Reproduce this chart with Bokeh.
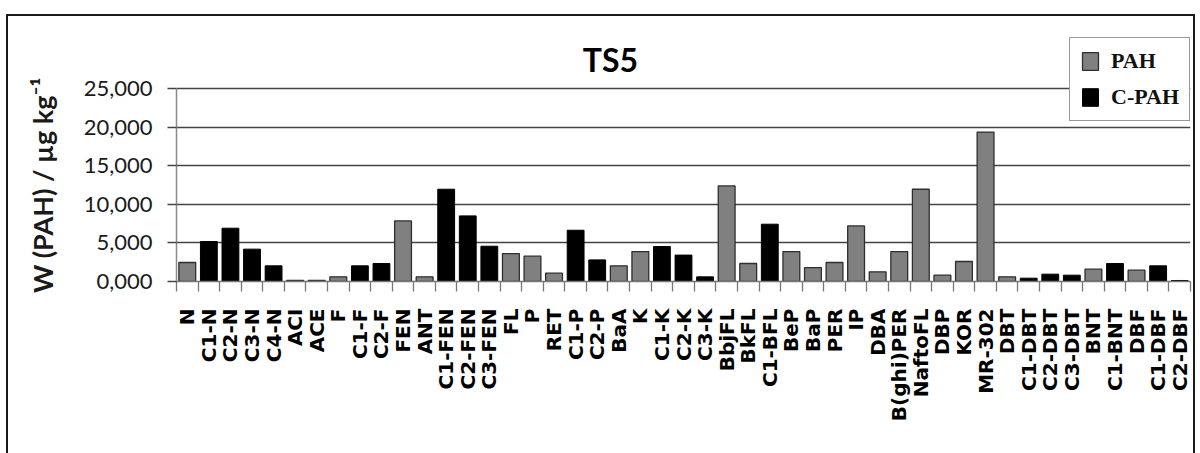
import math
from bokeh.plotting import figure
from bokeh.models import ColumnDataSource, FixedTicker, Legend, LegendItem, Label, Range1d
from bokeh.embed import file_html
from bokeh.resources import INLINE

categories = ["N", "C1-N", "C2-N", "C3-N", "C4-N", "ACI", "ACE", "F", "C1-F", "C2-F",
              "FEN", "ANT", "C1-FEN", "C2-FEN", "C3-FEN", "FL", "P", "RET", "C1-P", "C2-P",
              "BaA", "K", "C1-K", "C2-K", "C3-K", "BbjFL", "BkFL", "C1-BFL", "BeP", "BaP",
              "PER", "IP", "DBA", "B(ghi)PER", "NaftoFL", "DBP", "KOR", "MR-302", "DBT", "C1-DBT",
              "C2-DBT", "C3-DBT", "BNT", "C1-BNT", "DBF", "C1-DBF", "C2-DBF"]
values = [2460, 5180, 6900, 4190, 2030, 130, 130, 600, 2030, 2330,
          7850, 600, 11950, 8500, 4570, 3620, 3280, 1080, 6640, 2800,
          2030, 3880, 4530, 3420, 600, 12380, 2330, 7420, 3880, 1810,
          2460, 7200, 1250, 3880, 11950, 820, 2590, 19360, 600, 430,
          950, 820, 1600, 2330, 1470, 2030, 130]
groups = ["PAH", "C-PAH", "C-PAH", "C-PAH", "C-PAH", "PAH", "PAH", "PAH", "C-PAH", "C-PAH",
          "PAH", "PAH", "C-PAH", "C-PAH", "C-PAH", "PAH", "PAH", "PAH", "C-PAH", "C-PAH",
          "PAH", "PAH", "C-PAH", "C-PAH", "C-PAH", "PAH", "PAH", "C-PAH", "PAH", "PAH",
          "PAH", "PAH", "PAH", "PAH", "PAH", "PAH", "PAH", "PAH", "PAH", "C-PAH",
          "C-PAH", "C-PAH", "PAH", "C-PAH", "PAH", "C-PAH", "C-PAH"]
series_names = ["PAH", "C-PAH"]
yticks = [0, 5000, 10000, 15000, 20000, 25000]
ytick_labels = ["0,000", "5,000", "10,000", "15,000", "20,000", "25,000"]
chart_title = "TS5"
y_title = "W (PAH) / µg kg⁻¹"

n = len(categories)
xs = list(range(n))

# layout (pixels)
W, H = 1195, 453
frame_left, frame_top, frame_right, frame_bottom = 176, 36, 1190, 281
axis_px = 193  # height of the 0..max-tick span; the frame above it holds title & legend
frame_h = frame_bottom - frame_top
y_end = yticks[-1] * frame_h / axis_px


def subset(name):
    idx = [i for i, g in enumerate(groups) if g == name]
    return ColumnDataSource(dict(x=[xs[i] for i in idx], top=[values[i] for i in idx],
                                 cat=[categories[i] for i in idx]))


p = figure(width=W, height=H, output_backend="svg", toolbar_location=None,
           x_range=Range1d(-0.5, n - 0.5), y_range=Range1d(yticks[0], y_end),
           min_border_left=frame_left, min_border_right=W - frame_right,
           min_border_top=frame_top, min_border_bottom=H - frame_bottom,
           background_fill_color="white", border_fill_color=None)
p.styles = {"box-shadow": "inset 0 14px 0 #ffffff, inset 6px 0 0 #ffffff, "
                          "inset 0 16px 0 #1a1a1a, inset 8px 0 0 #1a1a1a, "
                          "inset -2px 0 0 #1a1a1a",
            "background-color": "white"}
p.outline_line_color = None

r_pah = p.vbar(x="x", top="top", width=0.78, source=subset(series_names[0]),
               fill_color="#808080", line_color="#2e2e2e", line_width=1.3)
r_cpah = p.vbar(x="x", top="top", width=0.78, source=subset(series_names[1]),
                fill_color="#000000", line_color="#000000", line_width=1.0)

# y axis
p.yaxis.ticker = FixedTicker(ticks=yticks)
p.yaxis.bounds = (yticks[0], yticks[-1])
p.yaxis.major_label_overrides = dict(zip(yticks, ytick_labels))
p.yaxis.axis_line_color = "#8a8a8a"
p.yaxis.axis_line_width = 1.5
p.yaxis.major_tick_out = 9
p.yaxis.major_tick_in = 0
p.yaxis.major_tick_line_color = "#444444"
p.yaxis.major_tick_line_width = 1.5
p.yaxis.minor_tick_line_color = None
p.yaxis.major_label_text_font = "Lato"
p.yaxis.major_label_text_font_size = "22px"
p.yaxis.major_label_text_color = "#1a1a1a"
p.yaxis.major_label_standoff = 15
# trailing no-break spaces centre the visible title on the 0..25,000 span
p.yaxis.axis_label = y_title + "\u00a0" * 8
p.yaxis.axis_label_text_font = "Lato"
p.yaxis.axis_label_text_font_style = "bold"
p.yaxis.axis_label_text_font_size = "27px"
p.yaxis.axis_label_text_color = "#1a1a1a"
p.yaxis.axis_label_standoff = 22

# x axis
p.xaxis.ticker = FixedTicker(ticks=xs, minor_ticks=[i - 0.5 for i in range(n + 1)])
p.xaxis.major_label_overrides = {i: c for i, c in zip(xs, categories)}
p.xaxis.major_label_orientation = math.pi / 2
p.xaxis.major_tick_out = 0
p.xaxis.major_tick_in = 0
p.xaxis.minor_tick_out = 10
p.xaxis.minor_tick_in = 0
p.xaxis.minor_tick_line_color = "#777777"
p.xaxis.minor_tick_line_width = 1.3
p.xaxis.axis_line_color = "#777777"
p.xaxis.axis_line_width = 1.5
p.xaxis.major_label_text_font = "DejaVu Sans"
p.xaxis.major_label_text_font_style = "bold"
p.xaxis.major_label_text_font_size = "20px"
p.xaxis.major_label_text_color = "#000000"
p.xaxis.major_label_standoff = 17

p.xgrid.visible = False
p.ygrid.ticker = FixedTicker(ticks=yticks)
p.ygrid.grid_line_color = "#444444"
p.ygrid.grid_line_width = 1.5

legend = Legend(items=[LegendItem(label=series_names[0], renderers=[r_pah]),
                       LegendItem(label=series_names[1], renderers=[r_cpah])],
                location=(893, 160), orientation="vertical",
                glyph_width=20, glyph_height=22, label_standoff=11, spacing=10,
                padding=10, margin=0,
                label_text_font="Liberation Serif", label_text_font_style="bold",
                label_text_font_size="22px", label_text_color="#111111",
                border_line_color="#333333", border_line_width=1.5,
                background_fill_color="white", background_fill_alpha=1.0)
p.add_layout(legend)

title = Label(x=434, y=222, x_units="screen", y_units="screen", text=chart_title,
              text_font="Lato", text_font_style="bold", text_font_size="32px",
              text_align="center", text_baseline="alphabetic", text_color="#000000")
p.add_layout(title)

open("out.html", "w").write(file_html(p, INLINE))
